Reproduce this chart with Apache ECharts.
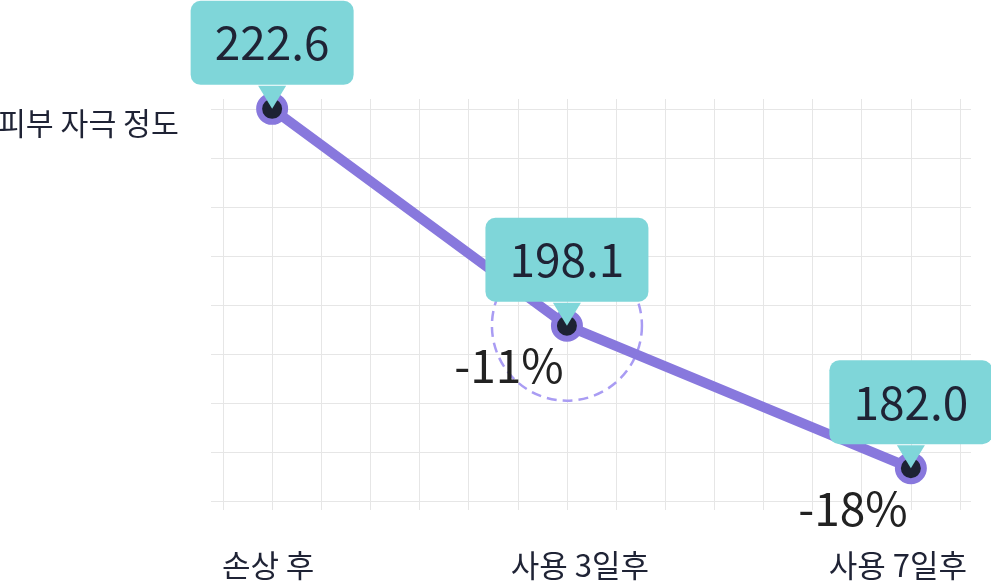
<!DOCTYPE html>
<html>
<head>
<meta charset="utf-8">
<script src="https://cdn.jsdelivr.net/npm/echarts@6/dist/echarts.min.js"></script>
<style>
html,body{margin:0;padding:0;background:#fff;}
#c{width:991px;height:581px;}
</style>
</head>
<body>
<div id="c"></div>
<script>
const categories = ['손상 후', '사용 3일후', '사용 7일후'];
const categoryX = [1, 7, 14];
const values = [222.6, 198.1, 182.0];
const changes = ['', '-11%', '-18%'];
const axisTitle = '피부 자극 정도';
const highlightIndex = 1;

const FONT = '"Noto Sans CJK KR", "Noto Sans", sans-serif';
const pts = values.map((v, i) => [categoryX[i], v]);
const labelShift = [-4, 13, -15];

const chart = echarts.init(document.getElementById('c'), null, {renderer: 'canvas'});
chart.setOption({
  animation: false,
  backgroundColor: '#ffffff',
  title: {
    text: axisTitle, left: -2, top: 105, padding: 0,
    textStyle: {fontFamily: FONT, fontSize: 30.3, fontWeight: 'normal', color: '#1f2335', lineHeight: 36}
  },
  grid: [
    {left: 211, width: 760, top: 109, height: 392},
    {left: 223, width: 737, top: 99, height: 414}
  ],
  xAxis: [
    {gridIndex: 0, type: 'value', min: 0, max: 1, show: false},
    {
      gridIndex: 1, type: 'value', min: 0, max: 15, interval: 1,
      axisLine: {show: false}, axisTick: {show: false},
      splitLine: {show: true, lineStyle: {color: '#e6e6e6', width: 1}},
      axisLabel: {
        margin: 40,
        fontFamily: FONT, fontSize: 31, color: '#1f2335',
        formatter: function (v) {
          const i = categoryX.indexOf(v);
          if (i < 0) return '';
          return '{c' + i + '|' + categories[i] + '}';
        },
        rich: {
          c0: {fontFamily: FONT, fontSize: 31, color: '#1f2335', padding: [0, -2 * labelShift[0], 0, 0]},
          c1: {fontFamily: FONT, fontSize: 31, color: '#1f2335', padding: [0, 0, 0, 2 * labelShift[1]]},
          c2: {fontFamily: FONT, fontSize: 31, color: '#1f2335', padding: [0, -2 * labelShift[2] - 4, 0, 0]}
        }
      }
    }
  ],
  yAxis: [
    {
      gridIndex: 0, type: 'value', min: 0, max: 8, interval: 1,
      axisLine: {show: false}, axisTick: {show: false}, axisLabel: {show: false},
      splitLine: {show: true, lineStyle: {color: '#e6e6e6', width: 1}}
    },
    {gridIndex: 1, type: 'value', min: 177.28, max: 223.71, show: false, splitLine: {show: false}}
  ],
  series: [
    {
      type: 'scatter', xAxisIndex: 1, yAxisIndex: 1, z: 1,
      data: [pts[highlightIndex]],
      symbol: 'circle', symbolSize: 150, silent: true,
      itemStyle: {color: 'rgba(0,0,0,0)', opacity: 1, borderColor: '#a99cf3', borderWidth: 2.5, borderType: [10, 6]}
    },
    {
      type: 'line', xAxisIndex: 1, yAxisIndex: 1, z: 2,
      data: pts, symbol: 'none', showSymbol: false,
      lineStyle: {color: '#8878dd', width: 10}
    },
    {
      type: 'scatter', xAxisIndex: 1, yAxisIndex: 1, z: 3,
      data: pts, symbol: 'circle', symbolSize: 26,
      itemStyle: {color: '#1d2233', borderColor: '#8878dd', borderWidth: 6, opacity: 1}
    },
    {
      type: 'scatter', xAxisIndex: 1, yAxisIndex: 1, z: 5,
      data: pts,
      symbol: 'path://M0,0 L2,0 L1,1.6 Z', symbolSize: [28, 23], symbolKeepAspect: false, symbolOffset: [0, -11.5],
      itemStyle: {color: '#7fd6d9', opacity: 1},
      label: {
        show: true, position: 'inside', offset: [0, -54.5],
        formatter: p => values[p.dataIndex].toFixed(1),
        fontFamily: FONT, fontSize: 46, color: '#1f2335',
        backgroundColor: '#7fd6d9', borderRadius: 10,
        width: 163, height: 60, lineHeight: 60, padding: [12, 0], align: 'center', verticalAlign: 'middle'
      }
    },
    {
      type: 'scatter', xAxisIndex: 1, yAxisIndex: 1, z: 6,
      data: pts, symbolSize: 1, itemStyle: {color: 'rgba(0,0,0,0)', opacity: 1},
      label: {
        show: true, position: 'inside', offset: [-58, 40],
        formatter: p => changes[p.dataIndex],
        fontFamily: FONT, fontSize: 46, color: '#222222'
      }
    }
  ]
});
</script>
</body>
</html>
